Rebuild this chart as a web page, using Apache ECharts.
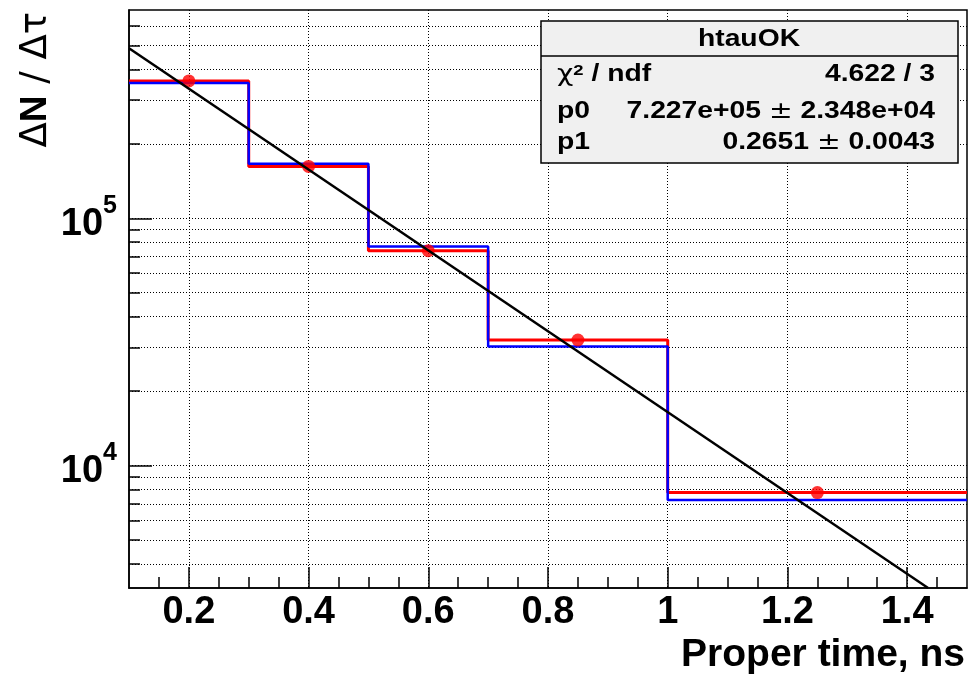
<!DOCTYPE html>
<html><head><meta charset="utf-8">
<script src="https://cdn.jsdelivr.net/npm/echarts@6/dist/echarts.min.js"></script>
<style>html,body{margin:0;padding:0;background:#fff}#c{width:970px;height:675px}</style>
</head><body><div id="c"></div>
<script>
// ---- data ----
const binEdges = [0.1, 0.3, 0.5, 0.7, 1.0, 1.5];
const redCounts = [3.59e5, 1.62e5, 7.39e4, 3.22e4, 7.78e3];
const blueCounts = [3.52e5, 1.66e5, 7.68e4, 3.03e4, 7.26e3];
const markerT = [0.2, 0.4, 0.6, 0.85, 1.25];
const markerCounts = [3.59e5, 1.62e5, 7.39e4, 3.22e4, 7.78e3];
const fitT = [0.1, 1.435];
const fitCounts = [4.87e5, 3.2e3];
const xTickValues = [0.2, 0.4, 0.6, 0.8, 1, 1.2, 1.4];
const yMajorTicks = [1e4, 1e5];
const yMinorTicks = [4e3, 5e3, 6e3, 7e3, 8e3, 9e3,
  2e4, 3e4, 4e4, 5e4, 6e4, 7e4, 8e4, 9e4,
  2e5, 3e5, 4e5, 5e5, 6e5];
const statsTitle = 'htauOK';
const statsChi2 = '4.622 / 3';
const statsP0 = ['7.227e+05', '2.348e+04'];
const statsP1 = ['0.2651', '0.0043'];

function stepData(edges, counts) {
  const d = [];
  for (let i = 0; i < counts.length; i++) d.push([edges[i], counts[i]]);
  d.push([edges[edges.length - 1], counts[counts.length - 1]]);
  return d;
}

const FONT = 'Liberation Sans, Arial, Helvetica, sans-serif';
const GREEK = 'DejaVu Sans, sans-serif';
const chart = echarts.init(document.getElementById('c'), null, {renderer: 'canvas'});
const dotted = {type: [1, 2], color: '#000', width: 1};
const SF = 23, SX = 1.23;   // stats box font size and horizontal stretch
const statText = (x, y, text, align, rich) => ({
  type: 'text', z: 22, x: x, y: y, scaleX: SX,
  style: Object.assign({text: text, align: align, verticalAlign: 'middle', fill: '#000',
    fontSize: SF, fontWeight: 'bold', fontFamily: FONT}, rich ? {rich: rich} : {})
});
const pmRich = {v: {fontSize: SF, fontWeight: 'bold', fontFamily: FONT, fill: '#000'},
                pm: {fontSize: SF, fontFamily: GREEK, fill: '#000'}};

chart.setOption({
  animation: false,
  backgroundColor: '#fff',
  grid: {left: 129, top: 10, right: 3, bottom: 87, show: true, borderColor: '#000', borderWidth: 1.5,
         outerBoundsMode: 'none', containLabel: false},
  xAxis: {
    type: 'value', min: 0.1, max: 1.5, splitNumber: 7,
    axisLine: {show: true, lineStyle: {color: '#000', width: 1.5}},
    axisTick: {show: true, inside: true, length: 21, customValues: xTickValues, lineStyle: {color: '#000', width: 1.5}},
    minorTick: {show: true, splitNumber: 4, length: 11, lineStyle: {color: '#000', width: 1.5}},
    axisLabel: {customValues: xTickValues, formatter: v => String(v), fontSize: 38, fontWeight: 'bold',
                fontFamily: FONT, color: '#000', margin: 6},
    splitLine: {show: true, lineStyle: dotted},
    minorSplitLine: {show: false}
  },
  yAxis: [{
    type: 'log', logBase: 10, min: 3200, max: 695000, position: 'left',
    axisLine: {show: true, lineStyle: {color: '#000', width: 1.5}},
    axisTick: {show: true, inside: true, length: 23, customValues: yMajorTicks, lineStyle: {color: '#000', width: 1.5}},
    axisLabel: {customValues: yMajorTicks, margin: 12,
      formatter: v => '{b|10}{s|' + Math.round(Math.log10(v)) + '}',
      rich: {
        b: {fontSize: 38, fontWeight: 'bold', fontFamily: FONT, color: '#000', lineHeight: 40, verticalAlign: 'bottom'},
        s: {fontSize: 25, fontWeight: 'bold', fontFamily: FONT, color: '#000', lineHeight: 50, verticalAlign: 'top', padding: [0, 0, 14, 0]}
      }},
    splitLine: {show: true, lineStyle: dotted},
    minorTick: {show: false}, minorSplitLine: {show: false}
  }, {
    type: 'log', logBase: 10, min: 3200, max: 695000, position: 'left',
    axisLine: {show: false},
    axisTick: {show: true, inside: true, length: 11, customValues: yMinorTicks, lineStyle: {color: '#000', width: 1.5}},
    axisLabel: {show: false},
    splitLine: {show: true, lineStyle: dotted},
    minorTick: {show: false}, minorSplitLine: {show: false}
  }],
  series: [
    {type: 'line', name: 'data', step: 'end', data: stepData(binEdges, redCounts), symbol: 'none',
     lineStyle: {color: '#ff0000', width: 3}, z: 3},
    {type: 'line', name: 'mc', step: 'end', data: stepData(binEdges, blueCounts), symbol: 'none',
     lineStyle: {color: '#0000ff', width: 2.5}, z: 4},
    {type: 'scatter', name: 'points', data: markerT.map((t, i) => [t, markerCounts[i]]), symbol: 'circle',
     symbolSize: 13, itemStyle: {color: '#ff0000'}, z: 5},
    {type: 'line', name: 'fit', data: fitT.map((t, i) => [t, fitCounts[i]]), symbol: 'none',
     lineStyle: {color: '#000', width: 2.5}, z: 6, clip: true}
  ],
  graphic: [
    {type: 'text', x: 36, y: 12, rotation: Math.PI / 2, z: 10,
     style: {text: '{d|Δ}{b|N}{d| / Δτ}', align: 'right', verticalAlign: 'middle',
       rich: {d: {fontSize: 37, fontFamily: GREEK, fill: '#000'},
              b: {fontSize: 37, fontWeight: 'bold', fontFamily: FONT, fill: '#000'}}}},
    {type: 'text', x: 965, y: 655, z: 10,
     style: {text: 'Proper time, ns', align: 'right', verticalAlign: 'middle', fontSize: 39, fontWeight: 'bold',
       fontFamily: FONT, fill: '#000'}},
    {type: 'rect', z: 20, shape: {x: 541, y: 21, width: 417, height: 142},
     style: {fill: '#f0f0f0', stroke: '#000', lineWidth: 1.5}},
    {type: 'line', z: 21, shape: {x1: 541, y1: 56, x2: 958, y2: 56}, style: {stroke: '#000', lineWidth: 1.5}},
    statText(749, 40, statsTitle, 'center'),
    statText(557, 75, '{g|χ}{s|2}{t| / ndf}', 'left', {
      g: {fontSize: SF, fontFamily: GREEK, fill: '#000'},
      s: {fontSize: 15, fontWeight: 'bold', fontFamily: FONT, fill: '#000', verticalAlign: 'top', lineHeight: 18},
      t: {fontSize: SF, fontWeight: 'bold', fontFamily: FONT, fill: '#000'}}),
    statText(935, 75, statsChi2, 'right'),
    statText(557, 112, 'p0', 'left'),
    statText(935, 112, '{v|' + statsP0[0] + ' }{pm|±}{v| ' + statsP0[1] + '}', 'right', pmRich),
    statText(557, 143, 'p1', 'left'),
    statText(935, 143, '{v|' + statsP1[0] + ' }{pm|±}{v| ' + statsP1[1] + '}', 'right', pmRich)
  ]
});
</script></body></html>
